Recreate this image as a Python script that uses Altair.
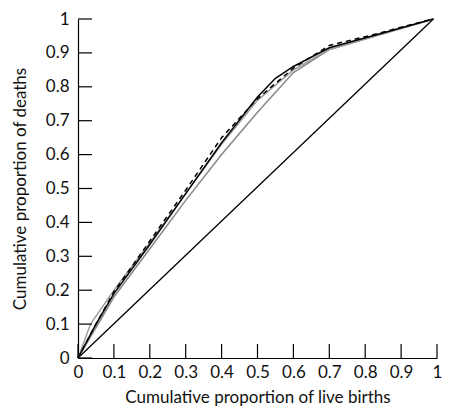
import altair as alt
import pandas as pd

# ---- data ----
black_x = [0.0, 0.05, 0.1, 0.2, 0.3, 0.4, 0.5, 0.55, 0.6, 0.7, 0.99]
black_y = [0.0, 0.1, 0.19, 0.335, 0.485, 0.635, 0.77, 0.825, 0.86, 0.915, 1.0]

dash_x = [0.0, 0.05, 0.1, 0.2, 0.3, 0.4, 0.5, 0.6, 0.7, 0.8, 0.99]
dash_y = [0.0, 0.1, 0.195, 0.345, 0.495, 0.65, 0.765, 0.855, 0.922, 0.948, 1.0]

greyA_x = [0.0, 0.035, 0.1, 0.2, 0.3, 0.4, 0.5, 0.6, 0.7, 0.99]
greyA_y = [0.0, 0.1, 0.2, 0.34, 0.485, 0.63, 0.76, 0.85, 0.91, 1.0]

greyB_x = [0.0, 0.05, 0.1, 0.2, 0.3, 0.4, 0.5, 0.6, 0.7, 0.99]
greyB_y = [0.0, 0.09, 0.18, 0.322, 0.465, 0.6, 0.725, 0.842, 0.91, 1.0]

diag_x = [0.0, 0.99]
diag_y = [0.0, 1.0]

tick_values = [0, 0.1, 0.2, 0.3, 0.4, 0.5, 0.6, 0.7, 0.8, 0.9, 1]

FONT = "Lato"
xs = alt.Scale(domain=[0, 1], nice=False, zero=False)
ys = alt.Scale(domain=[0, 1], nice=False, zero=False)

xaxis = alt.Axis(values=tick_values, format="~g", title="Cumulative proportion of live births",
                 grid=False, ticks=False, tickSize=0, labelPadding=6, titlePadding=9,
                 domainColor="black", domainWidth=1.2, labelFlush=False)
yaxis = alt.Axis(values=tick_values, format="~g", title="Cumulative proportion of deaths",
                 grid=False, ticks=False, tickSize=0, labelPadding=9, titlePadding=16,
                 domainColor="black", domainWidth=1.2, labelFlush=False)


def line(xv, yv, color, width=1.5, dash=None):
    df = pd.DataFrame({"x": xv, "y": yv, "o": list(range(len(xv)))})
    kw = dict(color=color, strokeWidth=width)
    if dash:
        kw["strokeDash"] = dash
    return alt.Chart(df).mark_line(**kw).encode(
        x=alt.X("x:Q", scale=xs, axis=xaxis),
        y=alt.Y("y:Q", scale=ys, axis=yaxis),
        order="o:Q",
    )


W, H = 359, 339
ticks_df = pd.DataFrame({"t": tick_values})
xticks = alt.Chart(ticks_df).mark_rule(color="black", strokeWidth=1.2).encode(
    x=alt.X("t:Q", scale=xs, axis=xaxis), y=alt.value(H), y2=alt.value(H - 14)
)
yticks = alt.Chart(ticks_df).mark_rule(color="black", strokeWidth=1.2).encode(
    y=alt.Y("t:Q", scale=ys, axis=yaxis), x=alt.value(0), x2=alt.value(14)
)

chart = alt.layer(
    line(diag_x, diag_y, "black", 1.3),
    line(greyB_x, greyB_y, "#8a8a8a", 1.6),
    line(greyA_x, greyA_y, "#9a9a9a", 1.4),
    line(black_x, black_y, "black", 1.5),
    line(dash_x, dash_y, "black", 1.5, [5, 4]),
    xticks,
    yticks,
).properties(
    width=W, height=H,
    autosize=alt.AutoSizeParams(type="none"),
    padding={"left": 70, "top": 11, "right": 5, "bottom": 50},
).configure_view(stroke=None).configure_axis(
    labelFont=FONT, labelFontSize=17, labelColor="#111",
    titleFont=FONT, titleFontSize=17, titleFontWeight="normal", titleColor="#111",
)

chart.save("out.html", embed_options={"renderer": "svg", "actions": False})
